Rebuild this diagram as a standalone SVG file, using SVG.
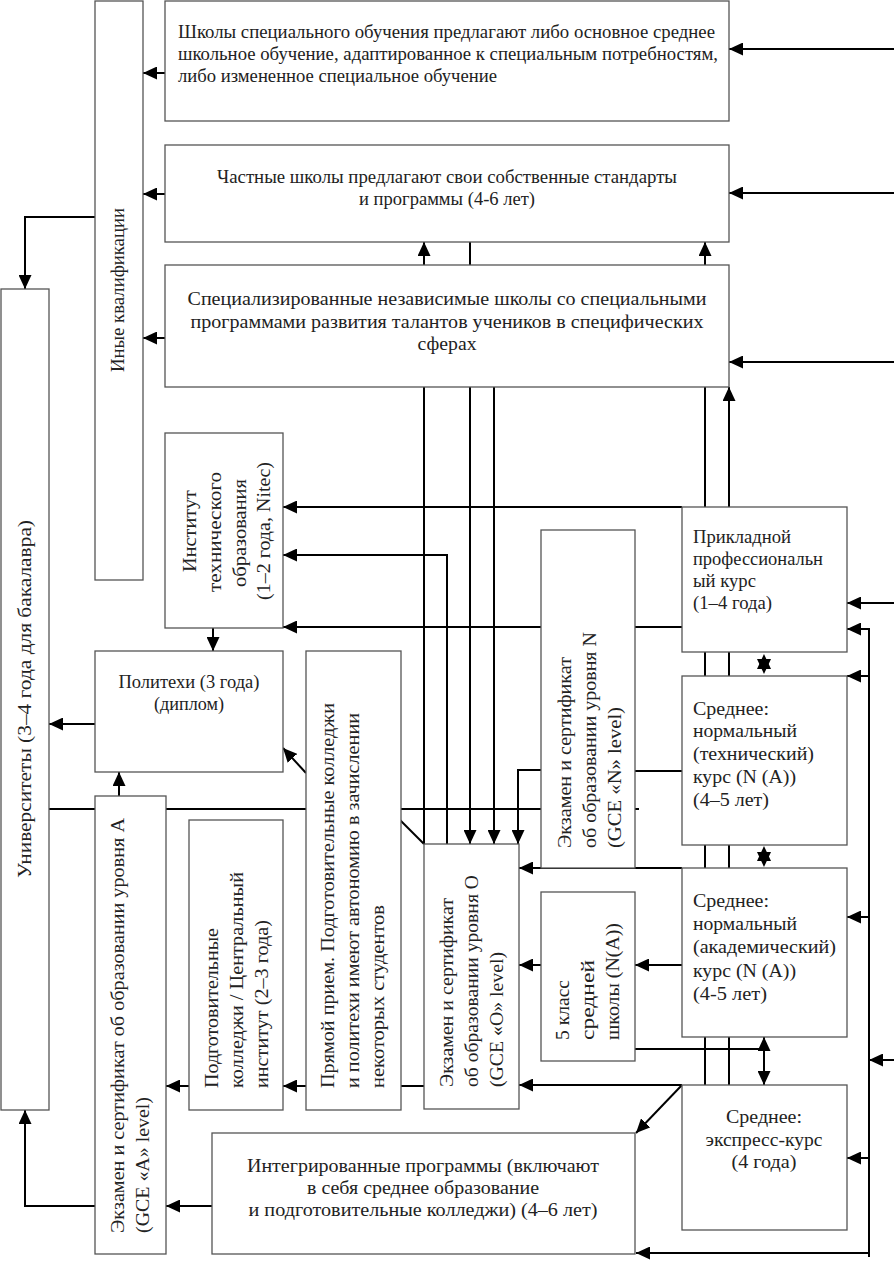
<svg xmlns="http://www.w3.org/2000/svg" width="894" height="1262" viewBox="0 0 894 1262">
<style>
.box{fill:#fff;stroke:#555;stroke-width:1.3}
.c{fill:none;stroke:#000;stroke-width:2}
.a{marker-end:url(#ah)}
.d{marker-start:url(#ah2);marker-end:url(#ah2)}
text{font-family:"Liberation Serif","Times New Roman",serif;font-size:19px;fill:#222}
.m{text-anchor:middle}
</style>
<defs>
<marker id="ah" markerWidth="15" markerHeight="13" refX="14" refY="6.5" orient="auto" markerUnits="userSpaceOnUse"><path d="M0,0 L14,6.5 L0,13 z" fill="#000"/></marker>
<marker id="ah2" markerWidth="15" markerHeight="13" refX="14" refY="6.5" orient="auto-start-reverse" markerUnits="userSpaceOnUse"><path d="M0,0 L14,6.5 L0,13 z" fill="#000"/></marker>
</defs>
<rect width="894" height="1262" fill="#fff"/>
<g id="connectors">
<path class="c a" d="M894,49 H729"/>
<path class="c a" d="M894,193 H729"/>
<path class="c a" d="M894,362 H729"/>
<path class="c a" d="M165,73 H143"/>
<path class="c a" d="M165,194 H143"/>
<path class="c a" d="M165,338 H143"/>
<path class="c a" d="M95,217 H25 V289"/>
<path class="c a" d="M424,844 V242"/>
<path class="c a" d="M470,242 V844"/>
<path class="c a" d="M494,387 V844"/>
<path class="c a" d="M705,1085 V242"/>
<path class="c a" d="M729,1085 V387"/>
<path class="c a" d="M682,507 H283"/>
<path class="c a" d="M447,844 V555 H283"/>
<path class="c a" d="M682,627 H283"/>
<path class="c a" d="M213,628 V651"/>
<path class="c a" d="M95,724 H49"/>
<path class="c a" d="M119,796 V772"/>
<path class="c a" d="M306,773 L283,748"/>
<path class="c" d="M49,809 H541 M635,809 H639"/>
<path class="c" d="M400,820 L424,844"/>
<path class="c a" d="M541,770 H518 V844"/>
<path class="c" d="M635,771 H682"/>
<path class="c a" d="M682,868 H519"/>
<path class="c a" d="M541,965 H519"/>
<path class="c a" d="M682,965 H635"/>
<path class="c a" d="M682,1085 H519"/>
<path class="c a" d="M682,1085 L636,1133"/>
<path class="c" d="M635,1049 H764"/>
<path class="c d" d="M764,1037 V1085"/>
<polygon points="764,654 757,669 771,669" fill="#000"/>
<polygon points="764,674 757,659 771,659" fill="#000"/>
<polygon points="764,846 757,861 771,861" fill="#000"/>
<polygon points="764,867 757,852 771,852" fill="#000"/>
<path class="c" d="M847,629 H869 V1257"/>
<path class="c a" d="M869,629 H847"/>
<path class="c a" d="M869,676 H847"/>
<path class="c a" d="M869,917 H847"/>
<path class="c a" d="M869,1158 H847"/>
<path class="c a" d="M869,1253 H636"/>
<path class="c a" d="M894,1060 H869"/>
<path class="c a" d="M894,603 H847"/>
<path class="c" d="M424,1086 H401"/>
<path class="c a" d="M306,1086 H283"/>
<path class="c a" d="M189,1086 H166"/>
<path class="c a" d="M212,1206 H166"/>
<path class="c a" d="M95,1206 H25 V1110"/>
</g>
<g id="special">
<rect class="box" x="165" y="1" width="564" height="120"/>
<text x="178" y="38" textLength="537" lengthAdjust="spacingAndGlyphs">Школы специального обучения предлагают либо основное среднее</text>
<text x="178" y="60" textLength="540" lengthAdjust="spacingAndGlyphs">школьное обучение, адаптированное к специальным потребностям,</text>
<text x="178" y="82" textLength="319" lengthAdjust="spacingAndGlyphs">либо измененное специальное обучение</text>
</g>
<g id="private">
<rect class="box" x="165" y="145" width="564" height="97"/>
<text class="m" x="447" y="183" textLength="460" lengthAdjust="spacingAndGlyphs">Частные школы предлагают свои собственные стандарты</text>
<text class="m" x="447" y="205" textLength="176" lengthAdjust="spacingAndGlyphs">и программы (4-6 лет)</text>
</g>
<g id="specialized">
<rect class="box" x="165" y="265" width="564" height="122"/>
<text class="m" x="447" y="305" textLength="519" lengthAdjust="spacingAndGlyphs">Специализированные независимые школы со специальными</text>
<text class="m" x="447" y="328" textLength="513" lengthAdjust="spacingAndGlyphs">программами развития талантов учеников в специфических</text>
<text class="m" x="447" y="350" textLength="59" lengthAdjust="spacingAndGlyphs">сферах</text>
</g>
<g id="other">
<rect class="box" x="95" y="1" width="48" height="579"/>
<text class="m" transform="translate(124,290) rotate(-90)" textLength="164" lengthAdjust="spacingAndGlyphs">Иные квалификации</text>
</g>
<g id="universities">
<rect class="box" x="1" y="289" width="48" height="821"/>
<text class="m" transform="translate(31,699) rotate(-90)" textLength="358" lengthAdjust="spacingAndGlyphs">Университеты (3–4 года для бакалавра)</text>
</g>
<g id="institute">
<rect class="box" x="165" y="433" width="118" height="195"/>
<text class="m" transform="translate(196,531) rotate(-90)" textLength="82" lengthAdjust="spacingAndGlyphs">Институт</text>
<text class="m" transform="translate(221,532) rotate(-90)" textLength="120" lengthAdjust="spacingAndGlyphs">технического</text>
<text class="m" transform="translate(246,533) rotate(-90)" textLength="108" lengthAdjust="spacingAndGlyphs">образования</text>
<text class="m" transform="translate(270,531) rotate(-90)" textLength="138" lengthAdjust="spacingAndGlyphs">(1–2 года, Nitec)</text>
</g>
<g id="poly">
<rect class="box" x="95" y="651" width="188" height="121"/>
<text class="m" x="189" y="688" textLength="141" lengthAdjust="spacingAndGlyphs">Политехи (3 года)</text>
<text class="m" x="189" y="710" textLength="70" lengthAdjust="spacingAndGlyphs">(диплом)</text>
</g>
<g id="direct">
<rect class="box" x="306" y="651" width="95" height="459"/>
<text transform="translate(334,1088) rotate(-90)" textLength="385" lengthAdjust="spacingAndGlyphs">Прямой прием. Подготовительные колледжи</text>
<text transform="translate(359,1088) rotate(-90)" textLength="375" lengthAdjust="spacingAndGlyphs">и политехи имеют автономию в зачислении</text>
<text transform="translate(384,1088) rotate(-90)" textLength="183" lengthAdjust="spacingAndGlyphs">некоторых студентов</text>
</g>
<g id="alevel">
<rect class="box" x="95" y="796" width="71" height="458"/>
<text transform="translate(124,1233) rotate(-90)" textLength="415" lengthAdjust="spacingAndGlyphs">Экзамен и сертификат об образовании уровня А</text>
<text transform="translate(149,1233) rotate(-90)" textLength="136" lengthAdjust="spacingAndGlyphs">(GCE «A» level)</text>
</g>
<g id="prep">
<rect class="box" x="189" y="820" width="94" height="290"/>
<text transform="translate(218,1088) rotate(-90)" textLength="160" lengthAdjust="spacingAndGlyphs">Подготовительные</text>
<text transform="translate(243,1088) rotate(-90)" textLength="216" lengthAdjust="spacingAndGlyphs">колледжи / Центральный</text>
<text transform="translate(268,1088) rotate(-90)" textLength="168" lengthAdjust="spacingAndGlyphs">институт (2–3 года)</text>
</g>
<g id="olevel">
<rect class="box" x="424" y="844" width="95" height="265"/>
<text transform="translate(453,1087) rotate(-90)" textLength="189" lengthAdjust="spacingAndGlyphs">Экзамен и сертификат</text>
<text transform="translate(478,1087) rotate(-90)" textLength="212" lengthAdjust="spacingAndGlyphs">об образовании уровня О</text>
<text transform="translate(503,1087) rotate(-90)" textLength="135" lengthAdjust="spacingAndGlyphs">(GCE «O» level)</text>
</g>
<g id="nlevel">
<rect class="box" x="541" y="530" width="94" height="338"/>
<text transform="translate(571,848) rotate(-90)" textLength="191" lengthAdjust="spacingAndGlyphs">Экзамен и сертификат</text>
<text transform="translate(596,848) rotate(-90)" textLength="216" lengthAdjust="spacingAndGlyphs">об образовании уровня N</text>
<text transform="translate(621,848) rotate(-90)" textLength="141" lengthAdjust="spacingAndGlyphs">(GCE «N» level)</text>
</g>
<g id="grade5">
<rect class="box" x="541" y="892" width="94" height="169"/>
<text transform="translate(569,1040) rotate(-90)" textLength="60" lengthAdjust="spacingAndGlyphs">5 класс</text>
<text transform="translate(594,1040) rotate(-90)" textLength="80" lengthAdjust="spacingAndGlyphs">средней</text>
<text transform="translate(619,1040) rotate(-90)" textLength="117" lengthAdjust="spacingAndGlyphs">школы (N(A))</text>
</g>
<g id="applied">
<rect class="box" x="682" y="507" width="165" height="145"/>
<text x="693" y="543" textLength="98" lengthAdjust="spacingAndGlyphs">Прикладной</text>
<text x="693" y="565" textLength="130" lengthAdjust="spacingAndGlyphs">профессиональн</text>
<text x="693" y="587" textLength="63" lengthAdjust="spacingAndGlyphs">ый курс</text>
<text x="693" y="609" textLength="79" lengthAdjust="spacingAndGlyphs">(1–4 года)</text>
</g>
<g id="technical">
<rect class="box" x="682" y="676" width="165" height="169"/>
<text x="693" y="715" textLength="76" lengthAdjust="spacingAndGlyphs">Среднее:</text>
<text x="693" y="737" textLength="104" lengthAdjust="spacingAndGlyphs">нормальный</text>
<text x="693" y="760" textLength="121" lengthAdjust="spacingAndGlyphs">(технический)</text>
<text x="693" y="783" textLength="103" lengthAdjust="spacingAndGlyphs">курс (N (A))</text>
<text x="693" y="806" textLength="76" lengthAdjust="spacingAndGlyphs">(4–5 лет)</text>
</g>
<g id="academic">
<rect class="box" x="682" y="868" width="165" height="169"/>
<text x="693" y="907" textLength="76" lengthAdjust="spacingAndGlyphs">Среднее:</text>
<text x="693" y="930" textLength="104" lengthAdjust="spacingAndGlyphs">нормальный</text>
<text x="693" y="953" textLength="143" lengthAdjust="spacingAndGlyphs">(академический)</text>
<text x="693" y="977" textLength="103" lengthAdjust="spacingAndGlyphs">курс (N (A))</text>
<text x="693" y="1000" textLength="74" lengthAdjust="spacingAndGlyphs">(4-5 лет)</text>
</g>
<g id="express">
<rect class="box" x="682" y="1085" width="165" height="145"/>
<text class="m" x="764" y="1123" textLength="76" lengthAdjust="spacingAndGlyphs">Среднее:</text>
<text class="m" x="764" y="1146" textLength="117" lengthAdjust="spacingAndGlyphs">экспресс-курс</text>
<text class="m" x="764" y="1168" textLength="65" lengthAdjust="spacingAndGlyphs">(4 года)</text>
</g>
<g id="integrated">
<rect class="box" x="212" y="1133" width="423" height="121"/>
<text class="m" x="423" y="1172" textLength="352" lengthAdjust="spacingAndGlyphs">Интегрированные программы (включают</text>
<text class="m" x="423" y="1194" textLength="232" lengthAdjust="spacingAndGlyphs">в себя среднее образование</text>
<text class="m" x="423" y="1216" textLength="349" lengthAdjust="spacingAndGlyphs">и подготовительные колледжи) (4–6 лет)</text>
</g>
</svg>
